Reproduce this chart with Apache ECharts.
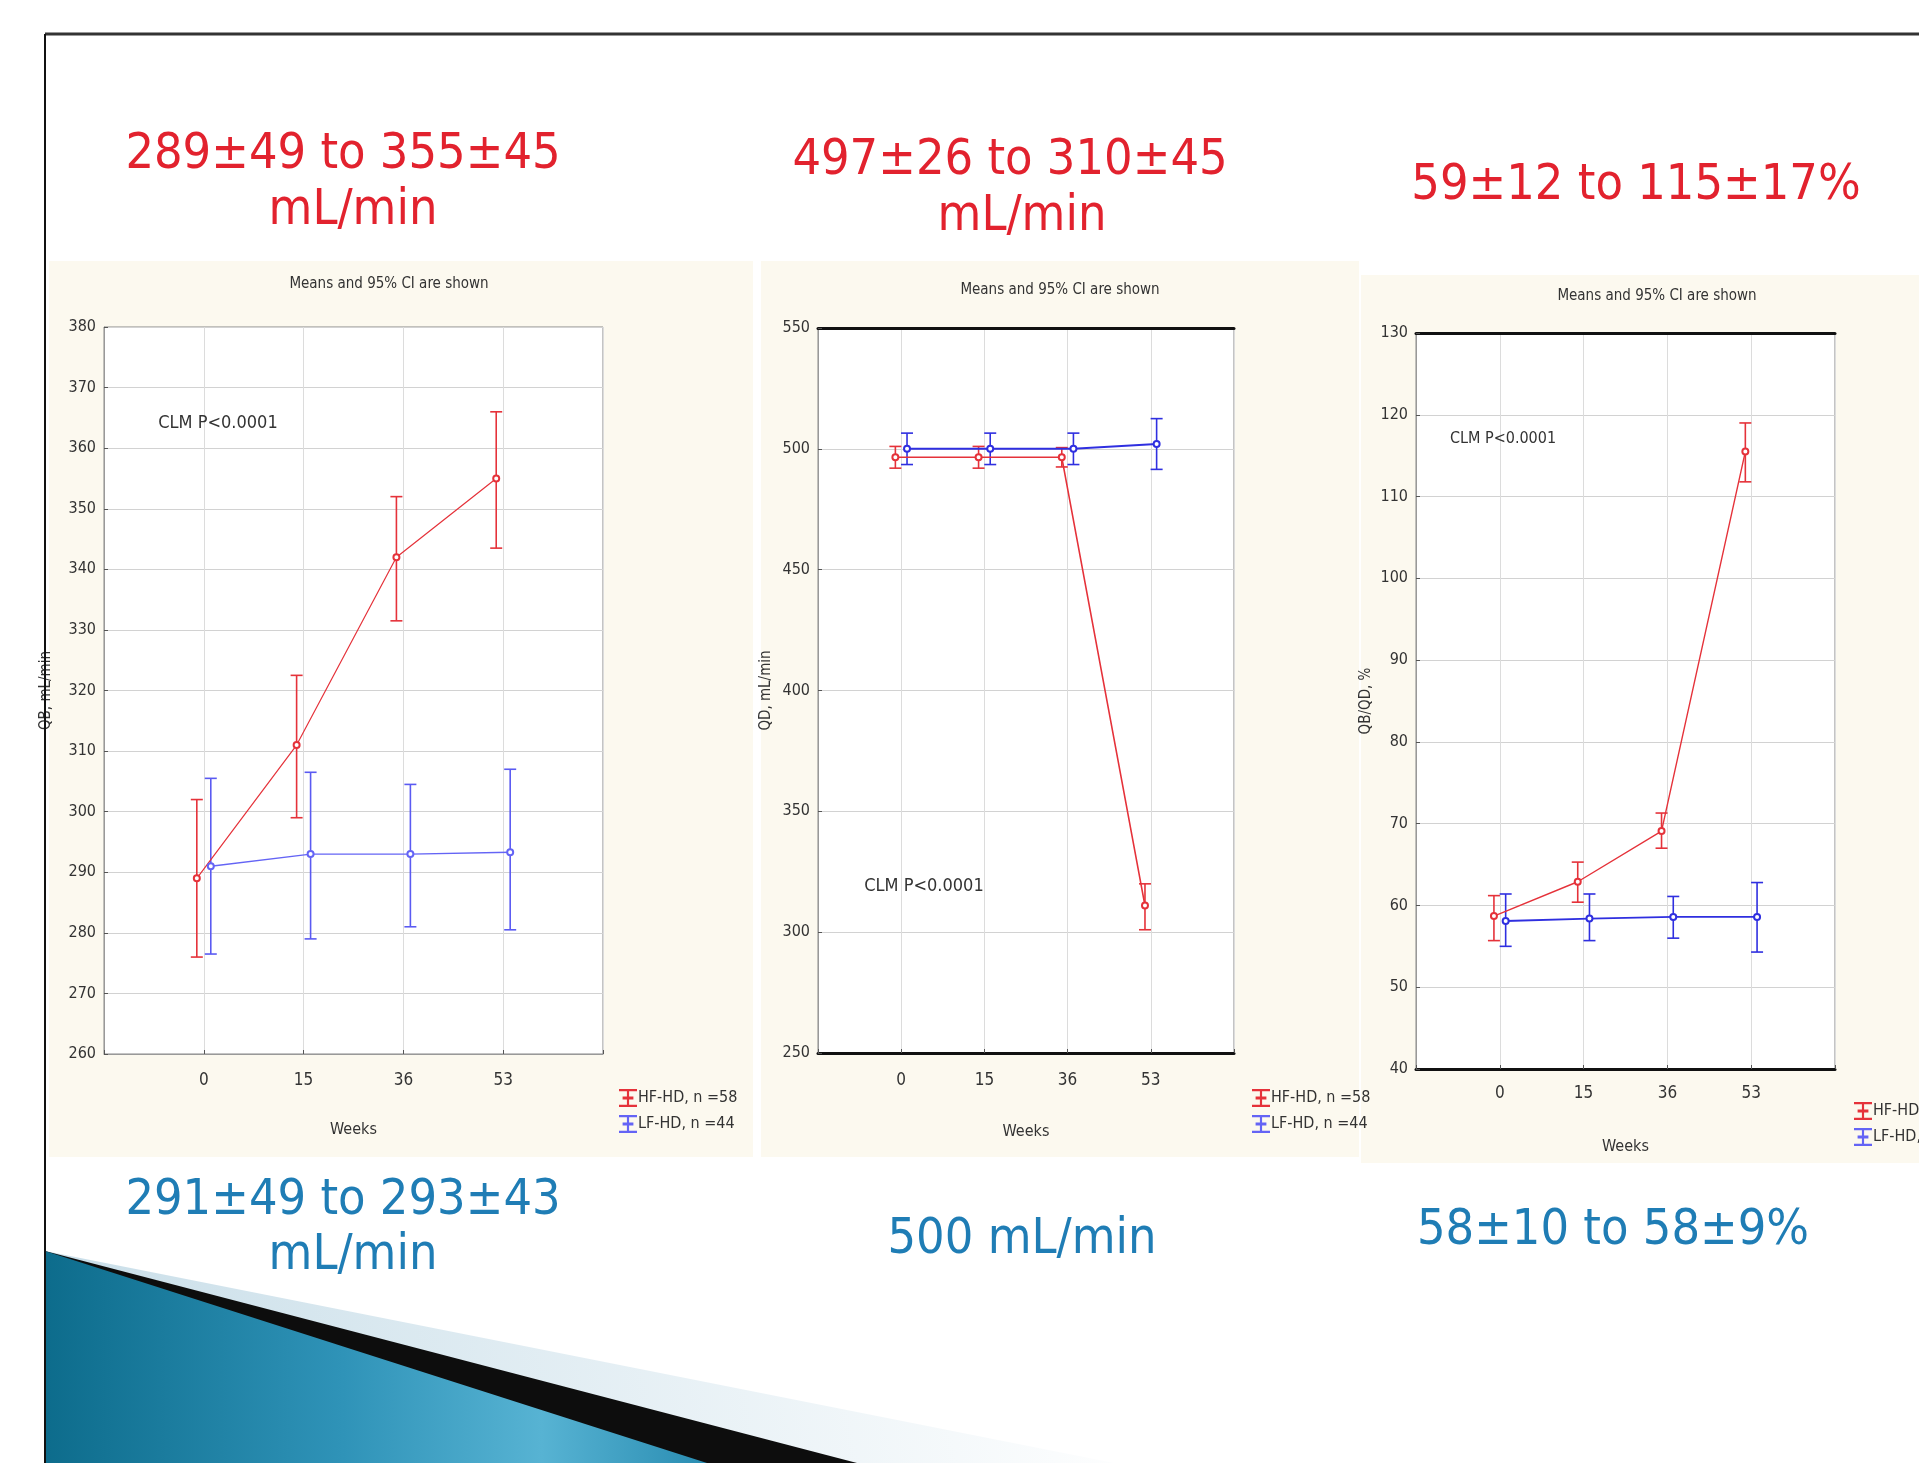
<!DOCTYPE html>
<html>
<head>
<meta charset="utf-8">
<title>HF-HD vs LF-HD: Qb, Qd and Qb/Qd</title>
<script src="https://cdn.jsdelivr.net/npm/echarts@6/dist/echarts.min.js"></script>
<style>
  html, body { margin: 0; padding: 0; background: #fff; }
  #chart { width: 1919px; height: 1463px; }
</style>
</head>
<body>
<div id="chart"></div>
<script>
// x categories shared by the three panels
const weeks = ["0", "15", "36", "53"];
const hfName = "HF-HD, n =58";
const lfName = "LF-HD, n =44";

// panel 1: QB, mL/min (mean, 95% CI low / high)
const qbHfMean = [289, 311, 342, 355];
const qbHfLow = [276, 299, 331.5, 343.5];
const qbHfHigh = [302, 322.5, 352, 366];
const qbLfMean = [291, 293, 293, 293.3];
const qbLfLow = [276.5, 279, 281, 280.5];
const qbLfHigh = [305.5, 306.5, 304.5, 307];

// panel 2: QD, mL/min
const qdHfMean = [496.5, 496.5, 496.5, 311];
const qdHfLow = [492, 492, 492.5, 301];
const qdHfHigh = [501, 501, 500.5, 320];
const qdLfMean = [500, 500, 500, 502];
const qdLfLow = [493.5, 493.5, 493.5, 491.5];
const qdLfHigh = [506.5, 506.5, 506.5, 512.5];

// panel 3: QB/QD, %
const ratioHfMean = [58.7, 62.9, 69.1, 115.5];
const ratioHfLow = [55.7, 60.4, 67, 111.8];
const ratioHfHigh = [61.2, 65.3, 71.3, 119];
const ratioLfMean = [58.1, 58.4, 58.6, 58.6];
const ratioLfLow = [55, 55.7, 56, 54.3];
const ratioLfHigh = [61.4, 61.4, 61.1, 62.8];

const RED = "#e5323a";
const BLUE = "#2f2fe0";
const NARROW = "'Liberation Sans Narrow', 'DejaVu Sans Condensed', 'Liberation Sans', sans-serif";
const HEAD = "'DejaVu Sans Condensed', 'Liberation Sans Narrow', sans-serif";

// group offsets so the two series don't overlap
const HF_SHIFT = -0.07;
const LF_SHIFT = 0.07;

const grids = [
  { left: 104, top: 327, width: 499, height: 727 },
  { left: 818, top: 328, width: 416, height: 725 },
  { left: 1416, top: 333, width: 419, height: 736 },
];
const yRanges = [
  { min: 260, max: 380, interval: 10, name: "QB, mL/min", gap: 50 },
  { min: 250, max: 550, interval: 50, name: "QD, mL/min", gap: 44 },
  { min: 40, max: 130, interval: 10, name: "QB/QD, %", gap: 42 },
];
const xGaps = [[18, 68], [19, 71], [16, 70]];

function meanLine(axis, name, color, mean, shift, width) {
  return {
    type: "line", name, xAxisIndex: axis, yAxisIndex: axis,
    data: mean.map((v, i) => [i + shift, v]),
    symbol: "emptyCircle", symbolSize: 6,
    itemStyle: { color, borderWidth: 1.5 },
    lineStyle: { color, width },
    z: 4, animation: false,
  };
}

function errorBars(axis, color, low, high, shift) {
  return {
    type: "custom", xAxisIndex: axis, yAxisIndex: axis, silent: true, z: 3,
    data: low.map((v, i) => [i + shift, v, high[i]]),
    encode: { x: 0, y: [1, 2] },
    renderItem: (params, api) => {
      const x = api.value(0);
      const lo = api.coord([x, api.value(1)]);
      const hi = api.coord([x, api.value(2)]);
      const w = 6;
      const style = { stroke: color, lineWidth: 1.6, fill: null };
      return {
        type: "group",
        children: [
          { type: "line", shape: { x1: lo[0], y1: lo[1], x2: hi[0], y2: hi[1] }, style },
          { type: "line", shape: { x1: lo[0] - w, y1: lo[1], x2: lo[0] + w, y2: lo[1] }, style },
          { type: "line", shape: { x1: hi[0] - w, y1: hi[1], x2: hi[0] + w, y2: hi[1] }, style },
        ],
      };
    },
    animation: false,
  };
}

const series = [
  meanLine(0, hfName, RED, qbHfMean, HF_SHIFT, 1.2),
  errorBars(0, RED, qbHfLow, qbHfHigh, HF_SHIFT),
  meanLine(0, lfName, "#6464f5", qbLfMean, LF_SHIFT, 1.4),
  errorBars(0, "#5a5af2", qbLfLow, qbLfHigh, LF_SHIFT),

  meanLine(1, hfName, RED, qdHfMean, HF_SHIFT, 1.6),
  errorBars(1, RED, qdHfLow, qdHfHigh, HF_SHIFT),
  meanLine(1, lfName, BLUE, qdLfMean, LF_SHIFT, 2),
  errorBars(1, BLUE, qdLfLow, qdLfHigh, LF_SHIFT),

  meanLine(2, hfName, RED, ratioHfMean, HF_SHIFT, 1.4),
  errorBars(2, RED, ratioHfLow, ratioHfHigh, HF_SHIFT),
  meanLine(2, lfName, BLUE, ratioLfMean, LF_SHIFT, 1.8),
  errorBars(2, BLUE, ratioLfLow, ratioLfHigh, LF_SHIFT),
];

const thickFrame = [false, true, true];

const xAxes = grids.map((g, i) => ({
  gridIndex: i, type: "value", min: -1, max: 4, interval: 1,
  axisLine: { show: true, onZero: false, lineStyle: { color: thickFrame[i] ? "#111" : "#999", width: thickFrame[i] ? 3 : 1 } },
  axisTick: { show: true, inside: true, length: 4, lineStyle: { color: "#555" } },
  axisLabel: {
    formatter: (v) => (weeks[v] !== undefined ? weeks[v] : ""),
    margin: xGaps[i][0], fontSize: 17, color: "#333", fontFamily: NARROW,
  },
  splitLine: { show: true, lineStyle: { color: "#dcdcdc" } },
  name: "Weeks", nameLocation: "middle", nameGap: xGaps[i][1],
  nameTextStyle: { fontSize: 16, color: "#333", fontFamily: NARROW },
}));
// heavy top frame on panels 2 and 3
[1, 2].forEach((i) => xAxes.push({
  gridIndex: i, type: "value", min: -1, max: 4, position: "top",
  axisLine: { show: true, onZero: false, lineStyle: { color: "#111", width: 3 } },
  axisTick: { show: false }, axisLabel: { show: false }, splitLine: { show: false },
}));

const yAxes = yRanges.map((r, i) => ({
  gridIndex: i, type: "value", min: r.min, max: r.max, interval: r.interval,
  axisLine: { show: true, onZero: false, lineStyle: { color: "#999" } },
  axisTick: { show: true, inside: true, length: 4, lineStyle: { color: "#555" } },
  axisLabel: { fontSize: 16, color: "#333", margin: 8, fontFamily: NARROW },
  splitLine: { show: true, lineStyle: { color: "#d2d2d2" } },
  name: r.name, nameLocation: "middle", nameRotate: 90, nameGap: r.gap,
  nameTextStyle: { fontSize: 15, color: "#333", fontFamily: NARROW },
}));

const legendIcon = "path://M0,0H10V1.2H0Z M4.4,0H5.6V10H4.4Z M0,8.8H10V10H0Z M2,4.2H8V5.8H2Z";
const legendPos = [{ left: 614, top: 1084 }, { left: 1247, top: 1084 }, { left: 1849, top: 1097 }];
const legends = legendPos.map((p) => ({
  ...p, orient: "vertical", itemGap: 8, itemWidth: 18, itemHeight: 22,
  icon: legendIcon, data: [hfName, lfName], selectedMode: false,
  textStyle: { fontSize: 16, color: "#333", fontFamily: NARROW, padding: [0, 0, 0, -4] },
}));

function headline(text, x, y, color, size) {
  return {
    type: "text", x, y, z: 20,
    style: { text, fill: color, font: `${size || 50}px ${HEAD}`, textAlign: "center", textVerticalAlign: "middle" },
  };
}
function note(text, x, y, size) {
  return {
    type: "text", x, y, z: 20,
    style: { text, fill: "#333", font: `${size}px ${NARROW}`, textAlign: "center", textVerticalAlign: "middle" },
  };
}

const HRED = "#e2222e";
const HBLUE = "#1f7db5";

const graphic = [
  // cream panels behind each plot
  { type: "rect", z: -10, shape: { x: 49, y: 261, width: 704, height: 896 }, style: { fill: "#fcf9ef" } },
  { type: "rect", z: -10, shape: { x: 761, y: 261, width: 598, height: 896 }, style: { fill: "#fcf9ef" } },
  { type: "rect", z: -10, shape: { x: 1361, y: 275, width: 558, height: 888 }, style: { fill: "#fcf9ef" } },
  // slide frame
  { type: "line", z: 20, shape: { x1: 45, y1: 34, x2: 1919, y2: 34 }, style: { stroke: "#333", lineWidth: 3 } },
  { type: "line", z: 20, shape: { x1: 45, y1: 34, x2: 45, y2: 1463 }, style: { stroke: "#111", lineWidth: 2 } },
  // bottom-left swoosh
  {
    type: "polygon", z: 1, shape: { points: [[45, 1251], [1114, 1463], [45, 1463]] },
    style: { fill: new echarts.graphic.LinearGradient(0, 1, 1, 0, [
      { offset: 0, color: "#c7dde8" }, { offset: 1, color: "#ffffff" }]) },
  },
  { type: "polygon", z: 2, shape: { points: [[45, 1251], [857, 1463], [45, 1463]] }, style: { fill: "#0d0d0d" } },
  {
    type: "polygon", z: 3, shape: { points: [[45, 1251], [707, 1463], [45, 1463]] },
    style: { fill: new echarts.graphic.LinearGradient(0, 0, 1, 0, [
      { offset: 0, color: "#0d6c8c" }, { offset: 0.45, color: "#2f93b8" },
      { offset: 0.75, color: "#57b3d3" }, { offset: 1, color: "#2a8db2" }]) },
  },
  // headline numbers
  headline("289±49 to 355±45", 343, 155, HRED),
  headline("mL/min", 353, 211, HRED),
  headline("497±26 to 310±45", 1010, 161, HRED),
  headline("mL/min", 1022, 217, HRED),
  headline("59±12 to 115±17%", 1636, 186, HRED),
  headline("291±49 to 293±43", 343, 1201, HBLUE),
  headline("mL/min", 353, 1256, HBLUE),
  headline("500 mL/min", 1022, 1240, HBLUE),
  headline("58±10 to 58±9%", 1613, 1231, HBLUE),
  // panel titles and test annotations
  note("Means and 95% CI are shown", 389, 284, 15),
  note("Means and 95% CI are shown", 1060, 290, 15),
  note("Means and 95% CI are shown", 1657, 296, 15),
  note("CLM P<0.0001", 218, 423, 18),
  note("CLM P<0.0001", 924, 886, 18),
  note("CLM P<0.0001", 1503, 439, 16),
];

const chart = echarts.init(document.getElementById("chart"), null, { renderer: "canvas" });
chart.setOption({
  backgroundColor: "#ffffff",
  animation: false,
  grid: grids.map((g) => ({ ...g, show: true, backgroundColor: "#ffffff", borderColor: "#888", borderWidth: 1 })),
  xAxis: xAxes,
  yAxis: yAxes,
  legend: legends,
  series,
  graphic,
});
</script>
</body>
</html>
